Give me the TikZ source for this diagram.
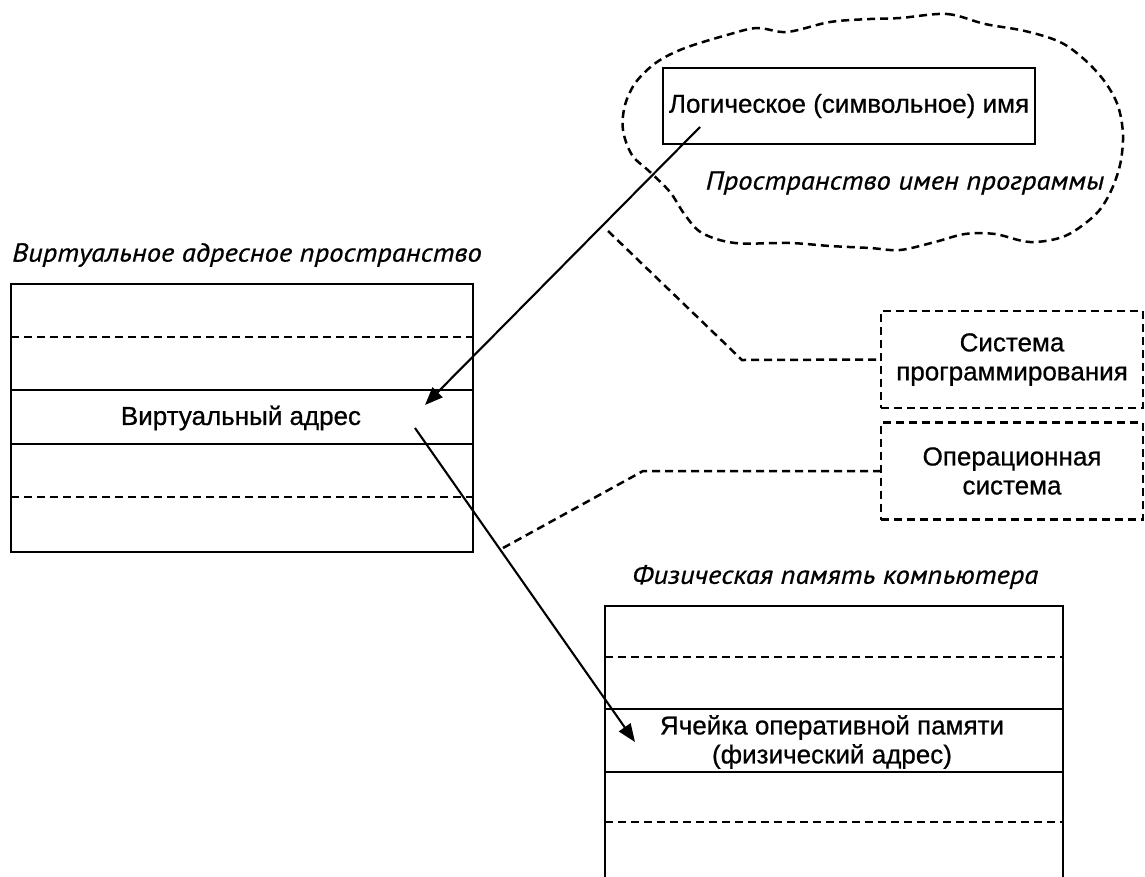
\documentclass[tikz,border=0pt]{standalone}
\usepackage{fontspec}
\setmainfont{Liberation Sans}[FakeBold=0.7]
\newfontfamily\slfont{PT Sans}[FakeStretch=1.1, FakeBold=0.7]
\usetikzlibrary{arrows.meta}

\tikzset{
  solidrule/.style={line width=2.7pt},
  dashrule/.style={line width=2.5pt, dash pattern=on 8pt off 5pt},
  arrowline/.style={line width=2.1pt, -{Triangle[length=18pt,width=14pt]}},
  plainlbl/.style={font=\fontsize{26}{29}\selectfont, align=center, inner sep=0pt},
  headlbl/.style={font=\slfont\itshape\fontsize{26}{30}\selectfont, inner sep=0pt, anchor=west},
  dashbox/.style={dashrule, draw, minimum width=262pt, minimum height=97pt,
                  plainlbl, inner sep=0pt}
}

\begin{document}
\begin{tikzpicture}[x=1pt,y=-1pt]
  \useasboundingbox (0,0) rectangle (1145,876);

  % ---- program name space (cloud) ----
  \draw[dashrule] plot[smooth cycle, tension=0.55] coordinates {
    (900,18) (947,14) (985,24) (1025,31) (1060,42) (1085,60) (1105,82)
    (1118,106) (1123,135) (1120,165) (1110,193) (1095,215) (1065,236)
    (1030,242) (995,234) (965,234) (935,242) (900,250) (870,248)
    (830,246) (790,243) (735,243) (702,233) (685,215) (670,192)
    (650,172) (632,155) (623,130) (625,105) (636,82) (657,62)
    (685,48) (727,35) (757,28) (787,32) (830,22) (870,19)};
  \node[draw, solidrule, minimum width=372pt, minimum height=76pt,
        plainlbl] (lname) at (849,106) {Логическое (символьное) имя};
  \node[headlbl, anchor=center] (nsp) at (905,183) {Пространство имен программы};

  % ---- virtual address space ----
  \node[headlbl] (vtitle) at (12,255) {Виртуальное адресное пространство};
  \draw[solidrule] (11,284) rectangle (473,552);
  \draw[dashrule] (11,337) -- (473,337);
  \draw[solidrule] (11,390) -- (473,390);
  \draw[solidrule] (11,444) -- (473,444);
  \draw[dashrule] (11,497) -- (473,497);
  \node[plainlbl] (vaddr) at (241,418) {Виртуальный адрес};

  % ---- physical memory ----
  \node[headlbl] (ptitle) at (632,577) {Физическая память компьютера};
  \draw[solidrule] (605,880) -- (605,606) -- (1063,606) -- (1063,880);
  \draw[dashrule] (605,657) -- (1063,657);
  \draw[solidrule] (605,709) -- (1063,709);
  \draw[solidrule] (605,772) -- (1063,772);
  \draw[dashrule] (605,822) -- (1063,822);
  \node[plainlbl] (cell) at (832,742) {Ячейка оперативной памяти\\(физический адрес)};

  % ---- translating software ----
  \node[dashbox] (progsys) at (1012,359.5) {Система\\программирования};
  \node[dashbox] (opsys) at (1012,471) {Операционная\\система};

  % ---- mappings ----
  \coordinate (m1from) at (700,127);
  \coordinate (m1to) at (425,405);
  \coordinate (m2from) at (415,428);
  \coordinate (m2to) at (635,742);
  \draw[arrowline] (m1from) -- (m1to);
  \draw[arrowline] (m2from) -- (m2to);

  \coordinate (ps) at (608,231);
  \coordinate (psbend) at (742,360);
  \coordinate (os) at (503,548);
  \coordinate (osbend) at (643,471);
  \draw[dashrule] (ps) -- (psbend) -- (progsys.west);
  \draw[dashrule] (os) -- (osbend) -- (opsys.west);
\end{tikzpicture}
\end{document}
